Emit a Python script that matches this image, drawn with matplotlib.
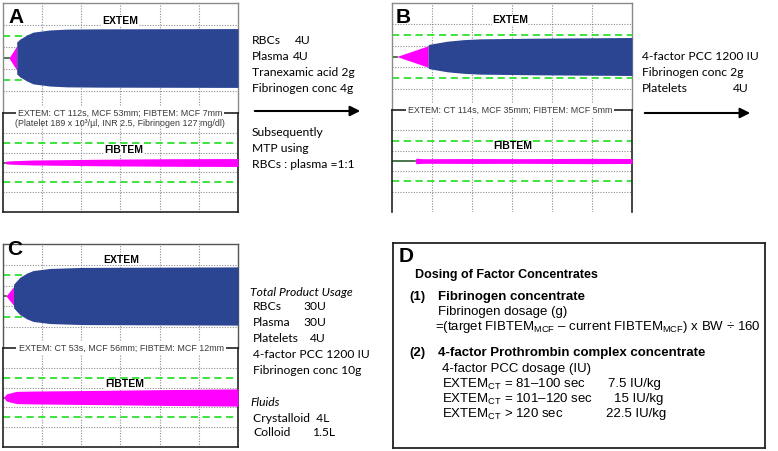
import numpy as np
import matplotlib.pyplot as plt
from matplotlib.patches import FancyArrowPatch

plt.rcParams['mathtext.fontset'] = 'custom'
plt.rcParams['mathtext.rm'] = 'Liberation Sans'

W, H = 778, 451

# ROTEM traces: time (s), amplitude (mm)
# ct = end of flat baseline, cft = pink part, main = blue part
a_ct = 46
a_cft_t = [46, 105]
a_cft_amp = [0, 22]
a_extem_t = [105, 130, 184, 230, 360, 490, 743, 1800]
a_extem_amp = [29, 34.5, 42, 47, 51, 52.5, 53, 53.5]
a_fib_t = [15, 20, 54, 230, 743, 1250, 1800]
a_fib_amp = [0, 2.5, 3.4, 5, 6.6, 7.6, 8]

b_ct = 35
b_cft_t = [35, 271]
b_cft_amp = [0, 20]
b_extem_t = [271, 273, 412, 537, 663, 1064, 1800]
b_extem_amp = [20, 22.5, 28.5, 31.5, 33, 34.2, 35.5]
b_fib_start = 173
b_fib_t = [173, 180, 230, 600, 1000, 1500, 1800]
b_fib_amp = [0, 5.5, 4.5, 4.8, 4.6, 5.2, 4.8]

c_ct = 23
c_cft_t = [23, 80]
c_cft_amp = [0, 17.6]
c_extem_t = [80, 82, 130, 182, 232, 360, 615, 1800]
c_extem_amp = [17.6, 23, 36, 44, 49, 53, 55, 56]
c_fib_t = [8, 15, 28, 105, 232, 743, 1254, 1800]
c_fib_amp = [0, 4, 7.4, 12.4, 13, 14.4, 16, 17.4]

labels = {
    'A': ('EXTEM: CT 112s, MCF 53mm; FIBTEM: MCF 7mm',
          '(Platelet 189 x 10³/µl, INR 2.5, Fibrinogen 127 mg/dl)'),
    'B': ('EXTEM: CT 114s, MCF 35mm; FIBTEM: MCF 5mm', None),
    'C': ('EXTEM: CT 53s, MCF 56mm; FIBTEM: MCF 12mm', None),
}

BLUE = '#2b4593'
PINK = '#ff00ff'
GREEN = '#2ee02e'

fig = plt.figure(figsize=(W / 100, H / 100), dpi=100)


def px_axes(x0, y0, x1, y1):
    return fig.add_axes([x0 / W, 1 - y1 / H, (x1 - x0) / W, (y1 - y0) / H])


def put(x, y, s, **kw):
    kw.setdefault('va', 'center')
    return fig.text(x / W, 1 - y / H, s, **kw)


def rotem_box(ax, spine_color, spines=('left', 'right', 'top', 'bottom'), lw=1.0):
    ax.set_xlim(0, 1800)
    ax.set_ylim(-50, 50)
    ax.set_xticks(np.arange(300, 1800, 300))
    ax.set_yticks([-30, -10, 10, 30])
    ax.tick_params(length=0, labelbottom=False, labelleft=False)
    ax.grid(True, color='#8c8c8c', ls=(0, (1, 1.4)), lw=0.8)
    ax.set_axisbelow(True)
    for v in (-20, 20):
        ax.axhline(v, color=GREEN, ls=(0, (4, 2.5)), lw=1.3, zorder=1)
    for name, sp in ax.spines.items():
        sp.set_visible(name in spines)
        sp.set_color(spine_color)
        sp.set_linewidth(lw)


def extem(ax, ct, cft_t, cft_amp, t, amp):
    ax.plot([0, ct], [0, 0], color='#2f5f2f', lw=1.2, zorder=2)
    cft_amp = np.array(cft_amp) / 2
    amp = np.array(amp) / 2
    ax.fill_between(cft_t, -cft_amp, cft_amp, color=PINK, lw=0, zorder=3)
    ax.fill_between(t, -amp, amp, color=BLUE, lw=0, zorder=3)


def fibtem(ax, ct, t, amp):
    ax.plot([0, ct], [0, 0], color='#2f5f2f', lw=1.2, zorder=2)
    amp = np.array(amp) / 2
    ax.fill_between(t, -amp, amp, color=PINK, lw=0, zorder=3)


tfont = dict(family='Liberation Sans')

# ---- panel A ----
ax = px_axes(3, 3, 238, 113)
rotem_box(ax, '#8a8a8a', spines=('left', 'right', 'top'))
extem(ax, a_ct, a_cft_t, a_cft_amp, a_extem_t, a_extem_amp)
ax = px_axes(3, 113, 238, 212)
rotem_box(ax, '#222222', lw=1.2)
fibtem(ax, a_fib_t[0], a_fib_t, a_fib_amp)

# ---- panel B ----
ax = px_axes(392, 3, 632, 110)
rotem_box(ax, '#8a8a8a', spines=('left', 'right', 'top'))
extem(ax, b_ct, b_cft_t, b_cft_amp, b_extem_t, b_extem_amp)
ax = px_axes(392, 110, 632, 212)
rotem_box(ax, '#222222', spines=('left', 'right', 'top'), lw=1.2)
fibtem(ax, b_fib_start, b_fib_t, b_fib_amp)

# ---- panel C ----
ax = px_axes(3, 244, 238, 348)
rotem_box(ax, '#555555', spines=('left', 'right', 'top'))
extem(ax, c_ct, c_cft_t, c_cft_amp, c_extem_t, c_extem_amp)
ax = px_axes(3, 348, 238, 447)
rotem_box(ax, '#222222', lw=1.2)
fibtem(ax, c_fib_t[0], c_fib_t, c_fib_amp)

# panel letters and trace labels
for letter, x, y in [('A', 8, 23), ('B', 396, 23), ('C', 7, 255), ('D', 399, 262)]:
    put(x, y, letter, va='baseline', fontsize=15, fontweight='bold', **tfont)
for name, x, y in [('EXTEM', 120, 21), ('FIBTEM', 124, 150),
                   ('EXTEM', 510, 20), ('FIBTEM', 513, 146),
                   ('EXTEM', 121, 260), ('FIBTEM', 125, 384)]:
    put(x, y, name, ha='center', fontsize=7.5, fontweight='bold',
        bbox=dict(fc='white', ec='none', pad=0.3), **tfont)

wbox = dict(fc='white', ec='none', pad=1.5)
lfont = dict(family='Liberation Sans', fontsize=6.4, color='#3a3a3a')
put(120, 113, labels['A'][0], ha='center', bbox=wbox, **lfont)
put(120, 123, labels['A'][1], ha='center', **lfont)
put(510, 110, labels['B'][0], ha='center', bbox=wbox, **lfont)
put(121, 348, labels['C'][0], ha='center', bbox=wbox, **lfont)

# ---- treatment notes ----
sfont = dict(family='Lato', fontsize=8.7)
for s, y in [('RBCs', 40), ('Plasma', 56), ('Tranexamic acid 2g', 72), ('Fibrinogen conc 4g', 88),
             ('Subsequently', 133), ('MTP using', 148), ('RBCs : plasma =1:1', 164)]:
    put(252, y, s, **sfont)
put(295, 40, '4U', **sfont)
put(293, 56, '4U', **sfont)

for s, y in [('4-factor PCC 1200 IU', 56), ('Fibrinogen conc 2g', 72), ('Platelets', 88)]:
    put(642, y, s, **sfont)
put(733, 88, '4U', **sfont)

for (x0, x1, y) in [(252, 363, 111), (642, 753, 113)]:
    fig.add_artist(FancyArrowPatch((x0 / W, 1 - y / H), (x1 / W, 1 - y / H),
                                   transform=fig.transFigure, arrowstyle='-|>',
                                   mutation_scale=15, lw=1.5, color='black'))

put(250, 292, 'Total Product Usage', style='italic', **sfont)
for s, y in [('RBCs', 307), ('Plasma', 323), ('Platelets', 339),
             ('4-factor PCC 1200 IU', 355), ('Fibrinogen conc 10g', 371)]:
    put(253, y, s, **sfont)
put(303, 307, '30U', **sfont)
put(303, 323, '30U', **sfont)
put(310, 339, '4U', **sfont)
put(250, 403, 'Fluids', style='italic', **sfont)
put(253, 418, 'Crystalloid  4L', **sfont)
put(253, 433, 'Colloid', **sfont)
put(312, 433, '1.5L', **sfont)

# ---- panel D ----
axd = px_axes(393, 243, 765, 448)
axd.set_xticks([])
axd.set_yticks([])
for sp in axd.spines.values():
    sp.set_color('#222222')
    sp.set_linewidth(1.3)

dfont = dict(family='Liberation Sans', fontsize=9.5)
put(415, 275, 'Dosing of Factor Concentrates', fontweight='bold', family='Liberation Sans', fontsize=9)
put(409, 297, '(1)', fontweight='bold', **dfont)
put(438, 297, 'Fibrinogen concentrate', fontweight='bold', **dfont)
put(438, 312, 'Fibrinogen dosage (g)', **dfont)
put(435, 327, r'=(target FIBTEM$_{\mathrm{MCF}}$ – current FIBTEM$_{\mathrm{MCF}}$) x BW ÷ 160', **dfont)
put(409, 353, '(2)', fontweight='bold', **dfont)
put(438, 353, '4-factor Prothrombin complex concentrate', fontweight='bold', **dfont)
put(442, 369, '4-factor PCC dosage (IU)', **dfont)
for s, dose, xd, y in [(r'EXTEM$_{\mathrm{CT}}$ = 81–100 sec', '7.5 IU/kg', 608, 384),
                       (r'EXTEM$_{\mathrm{CT}}$ = 101–120 sec', '15 IU/kg', 614, 399),
                       (r'EXTEM$_{\mathrm{CT}}$ > 120 sec', '22.5 IU/kg', 606, 414)]:
    put(442, y, s, **dfont)
    put(xd, y, dose, **dfont)

fig.savefig('out.png', dpi=100)
